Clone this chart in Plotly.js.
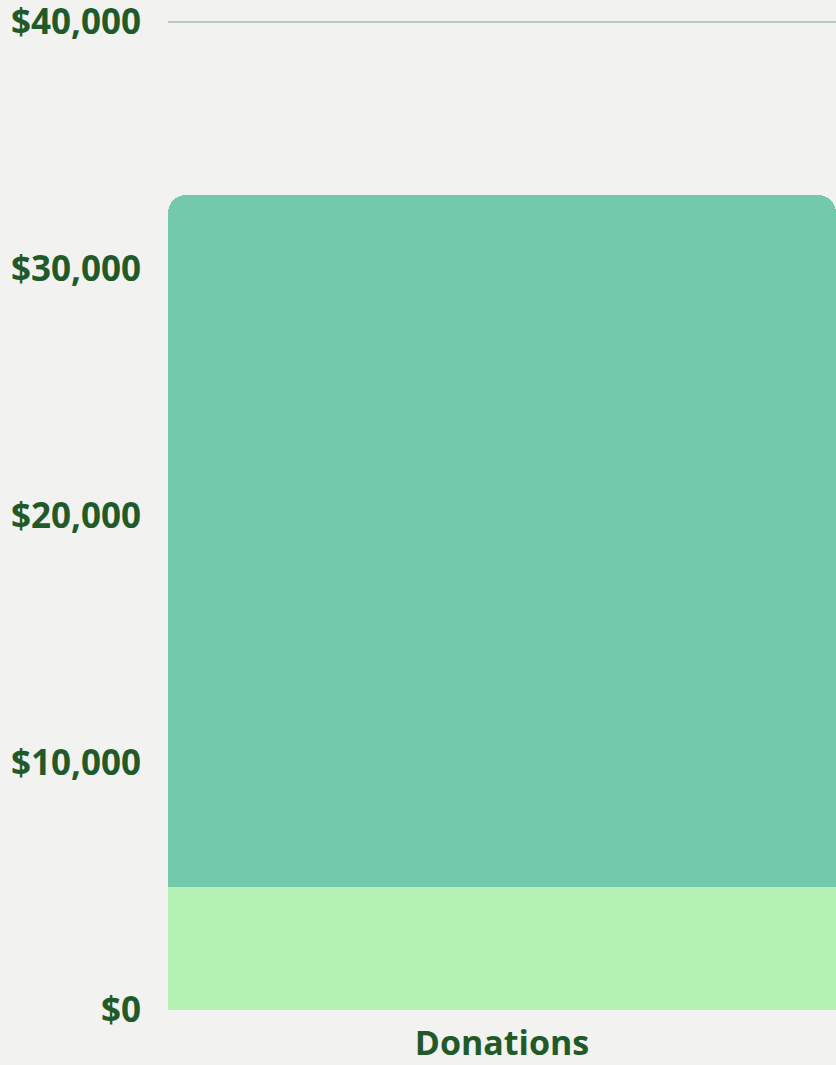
<!DOCTYPE html>
<html>
<head>
<meta charset="utf-8">
<script src="https://cdn.plot.ly/plotly-3.0.1.min.js"></script>
<style>
html,body{margin:0;padding:0;background:#f2f2f1;}
#chart{width:836px;height:1065px;}
</style>
</head>
<body>
<div id="chart"></div>
<script>
const categories = ["Donations"];
const seriesBase = [5000];
const seriesTop = [28000];
const yTickVals = [0, 10000, 20000, 30000, 40000];
const yTickText = ["$0", "$10,000", "$20,000", "$30,000", "$40,000"];

const textColor = "#215a28";
const traces = [
  {type: "bar", x: categories, y: seriesBase, marker: {color: "#b3f1b4"}, hoverinfo: "skip"},
  {type: "bar", x: categories, y: seriesTop, marker: {color: "#72c9ab"}, hoverinfo: "skip"}
];
const layout = {
  width: 836, height: 1065,
  barmode: "stack", bargap: 0, barcornerradius: 18,
  showlegend: false,
  paper_bgcolor: "rgba(0,0,0,0)", plot_bgcolor: "rgba(0,0,0,0)",
  margin: {l: 168, r: 0, t: 12, b: 55},
  font: {family: "Open Sans", color: textColor},
  xaxis: {
    showgrid: false, zeroline: false, showline: false,
    tickfont: {family: "Open Sans", size: 34, weight: 700, color: textColor},
    ticklabelstandoff: 10, ticklabeloverflow: "allow"
  },
  yaxis: {
    range: [0, 40405], tickvals: yTickVals, ticktext: yTickText,
    showgrid: true, gridcolor: "#b9cbbb", gridwidth: 1.5,
    zeroline: false, showline: false,
    tickfont: {family: "Open Sans", size: 35, weight: 700, color: textColor},
    ticklabelstandoff: 26, ticklabeloverflow: "allow"
  }
};
Plotly.newPlot("chart", traces, layout, {displayModeBar: false, staticPlot: true});
</script>
</body>
</html>
